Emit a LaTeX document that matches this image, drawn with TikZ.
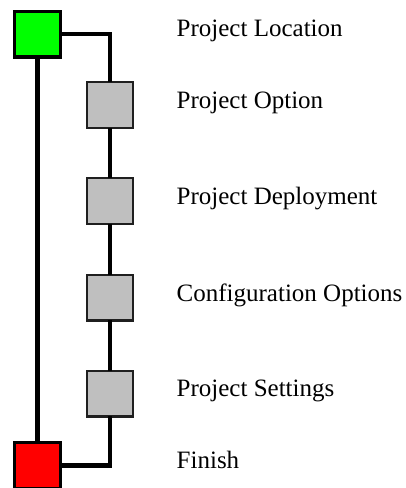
\documentclass[tikz,border=0pt]{standalone}
\usepackage{fontspec}
\setmainfont{Liberation Serif}
\begin{document}
\begin{tikzpicture}[x=1pt,y=-1pt,
  startbox/.style={draw=black,line width=3.3pt,fill=green,minimum size=45.7pt,inner sep=0pt,outer sep=0pt},
  endbox/.style={draw=black,line width=3.3pt,fill=red,minimum size=45.7pt,inner sep=0pt,outer sep=0pt},
  stepbox/.style={draw=black!88,line width=2.3pt,fill=black!25,minimum size=45.7pt,inner sep=0pt,outer sep=0pt},
  link/.style={draw=black,line width=4.5pt},
  label/.style={anchor=base west,inner sep=0pt,font=\fontsize{25pt}{30pt}\selectfont}]
\useasboundingbox (0,0) rectangle (406,488);
\begin{scope}
\clip (0,0) rectangle (406,488);
% nodes
\node[startbox] (start) at (37.5,34) {};
\node[stepbox] (s1) at (110,105) {};
\node[stepbox] (s2) at (110,201) {};
\node[stepbox] (s3) at (110,297.5) {};
\node[stepbox] (s4) at (110,393.5) {};
\node[endbox] (finish) at (37.5,465.5) {};
% connectors
\draw[link] (start.south) -- (finish.north);
\draw[link] (start.east) -| (s1.north);
\draw[link] (s1.south) -- (s2.north);
\draw[link] (s2.south) -- (s3.north);
\draw[link] (s3.south) -- (s4.north);
\draw[link] (s4.south) |- (finish.east);
\end{scope}
% labels
\node[label] (l0) at (176.5,36) {Project Location};
\node[label] (l1) at (176.5,108) {Project Option};
\node[label] (l2) at (176.5,204) {Project Deployment};
\node[label] (l3) at (176.5,301) {Configuration Options};
\node[label] (l4) at (176.5,396) {Project Settings};
\node[label] (l5) at (176.5,468) {Finish};
\end{tikzpicture}
\end{document}
